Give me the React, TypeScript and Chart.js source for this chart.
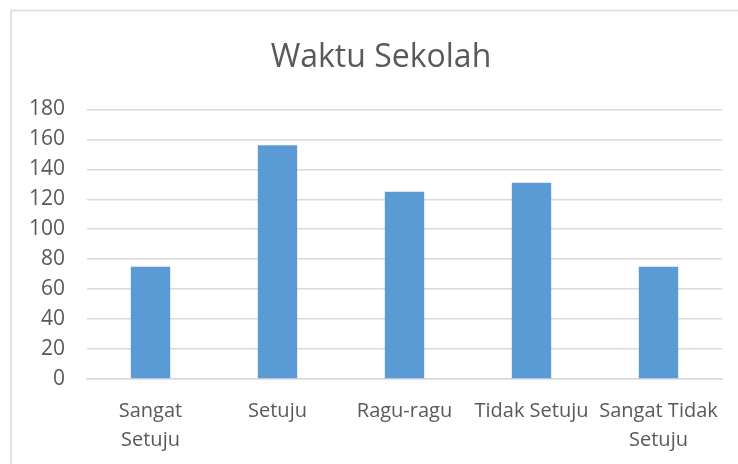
import React, { useEffect, useRef } from "react";
import { Chart, registerables } from "chart.js";

Chart.register(...registerables);

const chartTitle = "Waktu Sekolah";
const categories: (string | string[])[] = [
  ["Sangat", "Setuju"],
  "Setuju",
  "Ragu-ragu",
  "Tidak Setuju",
  ["Sangat Tidak", "Setuju"],
];
const values = [75, 156, 125, 131, 75];
const yMin = 0;
const yMax = 180;
const yStep = 20;

const FONT = "'Open Sans', 'Liberation Sans', sans-serif";
const TEXT = "#595959";
const GRID = "#d9d9d9";
const BAR = "#5b9bd5";

const frame = {
  id: "frame",
  afterLayout(chart: any) {
    if (chart.titleBlock) {
      chart.titleBlock.left = 40;
    }
  },
  beforeDraw(chart: any) {
    const ctx = chart.ctx;
    ctx.save();
    ctx.strokeStyle = GRID;
    ctx.lineWidth = 1.5;
    ctx.beginPath();
    ctx.moveTo(11, chart.height);
    ctx.lineTo(11, 10.5);
    ctx.lineTo(chart.width, 10.5);
    ctx.stroke();
    ctx.restore();
  },
};

export default function App() {
  const ref = useRef<HTMLCanvasElement>(null);
  useEffect(() => {
    if (!ref.current) return;
    const chart = new Chart(ref.current, {
      type: "bar",
      data: {
        labels: categories,
        datasets: [
          {
            data: values,
            backgroundColor: BAR,
            barPercentage: 0.31,
            categoryPercentage: 1,
          },
        ],
      },
      options: {
        animation: false,
        responsive: false,
        maintainAspectRatio: false,
        layout: { padding: { left: 0, right: 16, top: 0, bottom: 0 } },
        plugins: {
          legend: { display: false },
          tooltip: { enabled: false },
          title: {
            display: true,
            text: chartTitle,
            color: TEXT,
            font: { family: FONT, size: 32, weight: "normal", lineHeight: 1.2 },
            padding: { top: 39, bottom: 32 },
          },
        },
        scales: {
          x: {
            grid: { display: false, drawTicks: false },
            border: { display: true, color: GRID, width: 1.5 },
            ticks: {
              color: TEXT,
              font: { family: FONT, size: 20, lineHeight: 1.45 },
              padding: 18,
              maxRotation: 0,
              minRotation: 0,
              autoSkip: false,
            },
            afterFit(scale: any) {
              scale.height = 85;
            },
          },
          y: {
            min: yMin,
            max: yMax,
            grid: { color: GRID, lineWidth: 1.5, drawTicks: false },
            border: { display: false },
            ticks: {
              stepSize: yStep,
              color: TEXT,
              font: { family: FONT, size: 21 },
              padding: 22,
            },
            afterFit(scale: any) {
              scale.width = 87;
            },
          },
        },
      },
      plugins: [frame],
    });
    return () => chart.destroy();
  }, []);
  return (
    <div style={{ position: "absolute", left: 0, top: 0, width: 738, height: 464, background: "#fff" }}>
      <canvas ref={ref} width={738} height={464} style={{ display: "block" }} />
    </div>
  );
}
